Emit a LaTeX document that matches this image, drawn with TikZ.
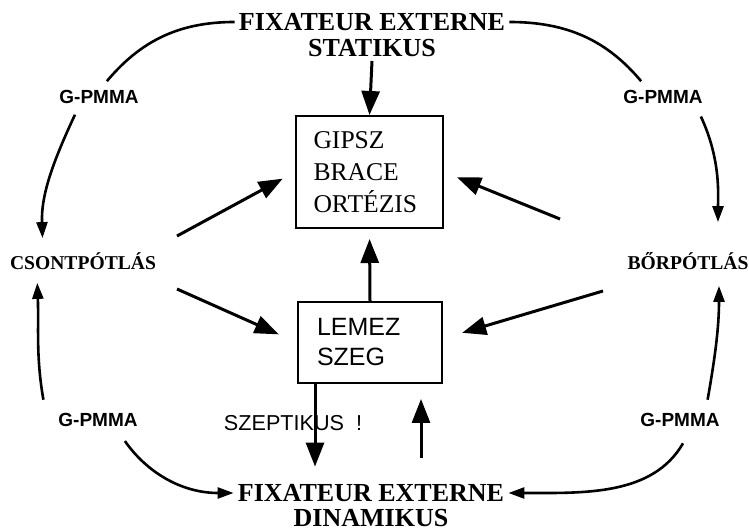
\documentclass[tikz,border=0pt]{standalone}
\usepackage{fontspec}
\setmainfont{Liberation Serif}
\setsansfont{Liberation Sans}
\usetikzlibrary{arrows.meta}

\begin{document}
\begin{tikzpicture}[x=0.5pt, y=0.5pt,
    big/.style={font=\fontsize{13}{14}\selectfont\bfseries, inner sep=2pt, text height=8.6pt, text depth=0pt},
    side/.style={font=\fontsize{9.8}{11}\selectfont\bfseries, inner sep=2pt, text height=6.5pt, text depth=0pt},
    gp/.style={font=\fontsize{9.5}{11}\selectfont\sffamily\bfseries, inner sep=2pt, text height=6.8pt, text depth=0pt},
    box/.style={draw, line width=1pt, inner sep=0pt, align=left},
    mid/.style={-{Triangle[length=12pt,width=9pt]}, line width=1.5pt},
    curve/.style={line width=1.3pt},
    tip/.style={-{Triangle[length=8pt,width=5.5pt]}}]
  \useasboundingbox (0,0) rectangle (749,530);

  \node[big] (fixtop) at (372,508) {FIXATEUR EXTERNE};
  \node[big] (stat) at (372,482) {STATIKUS};
  \node[big] (fixbot) at (371,37) {FIXATEUR EXTERNE};
  \node[big] (din) at (371,12) {DINAMIKUS};
  \node[box, minimum width=73.5pt, minimum height=56pt, text width=56pt,
        font=\fontsize{12.8}{16}\selectfont] (gipsz) at (369.5,358) {GIPSZ\\BRACE\\ORTÉZIS};
  \node[box, minimum width=72pt, minimum height=40.5pt, text width=53pt,
        font=\fontsize{12.5}{15}\selectfont\sffamily] (lemez) at (370,187.5) {LEMEZ\\SZEG};
  \node[side] (csont) at (83,267) {CSONTPÓTLÁS};
  \node[side] (bor) at (688,267) {BŐRPÓTLÁS};
  \node[gp] (gpl1) at (99,433) {G-PMMA};
  \node[gp] (gpr1) at (663,433) {G-PMMA};
  \node[gp] (gpl2) at (98,110) {G-PMMA};
  \node[gp] (gpr2) at (680,110) {G-PMMA};
  \node[font=\fontsize{10.8}{12}\selectfont\sffamily] (szept) at (293,107) {SZEPTIKUS~~!};

  \coordinate (lg) at (177,294);
  \coordinate (ll) at (177,241);
  \coordinate (rg) at (560,311);
  \coordinate (rl) at (603,239);

  \draw[mid] (stat.south) -- (gipsz.north);
  \draw[mid, shorten >=5pt] (lemez.north) -- (gipsz.south);
  \draw[mid, shorten >=7pt] (lg) -- (gipsz.west);
  \draw[mid, shorten >=10pt] (ll) -- (lemez.west);
  \draw[mid, shorten >=7pt] (rg) -- (gipsz.east);
  \draw[mid, shorten >=10pt] (rl) -- ([yshift=2pt]lemez.east);
  \draw[mid, shorten >=6.7pt] ([xshift=-27.5pt]lemez.south) -- ([xshift=-27.5pt]lemez.south |- fixbot.north);
  \draw[mid, shorten <=11pt] ([xshift=25.5pt]lemez.south |- fixbot.north) -- ([xshift=25.5pt,yshift=-7.5pt]lemez.south);

  \draw[curve, shorten >=3pt] (fixtop.west) to[out=180,in=50] ([xshift=2pt]gpl1.north);
  \draw[curve, tip, shorten <=3.6pt, shorten >=7pt] ([xshift=-10.5pt]gpl1.south) to[out=245,in=92] ([xshift=-20pt]csont.north);
  \draw[curve, tip, shorten <=4.6pt, shorten >=4.5pt] ([xshift=-26.5pt]gpl2.north) to[out=100,in=-88] ([xshift=-23pt]csont.south);
  \draw[curve, tip, shorten <=6pt] ([xshift=10pt]gpl2.south) to[out=-55,in=180] (fixbot.west);
  \draw[curve, shorten >=3pt] (fixtop.east) to[out=0,in=130] ([xshift=-9pt]gpr1.north);
  \draw[curve, tip, shorten <=4.6pt, shorten >=15pt] ([xshift=17pt]gpr1.south) to[out=-65,in=90] ([xshift=15pt]bor.north);
  \draw[curve, tip, shorten <=4.6pt, shorten >=6pt] ([xshift=13pt]gpr2.north) to[out=80,in=-90] ([xshift=15.5pt]bor.south);
  \draw[curve, tip, shorten <=7pt] ([xshift=5pt]gpr2.south) to[out=-120,in=0] (fixbot.east);
\end{tikzpicture}
\end{document}
